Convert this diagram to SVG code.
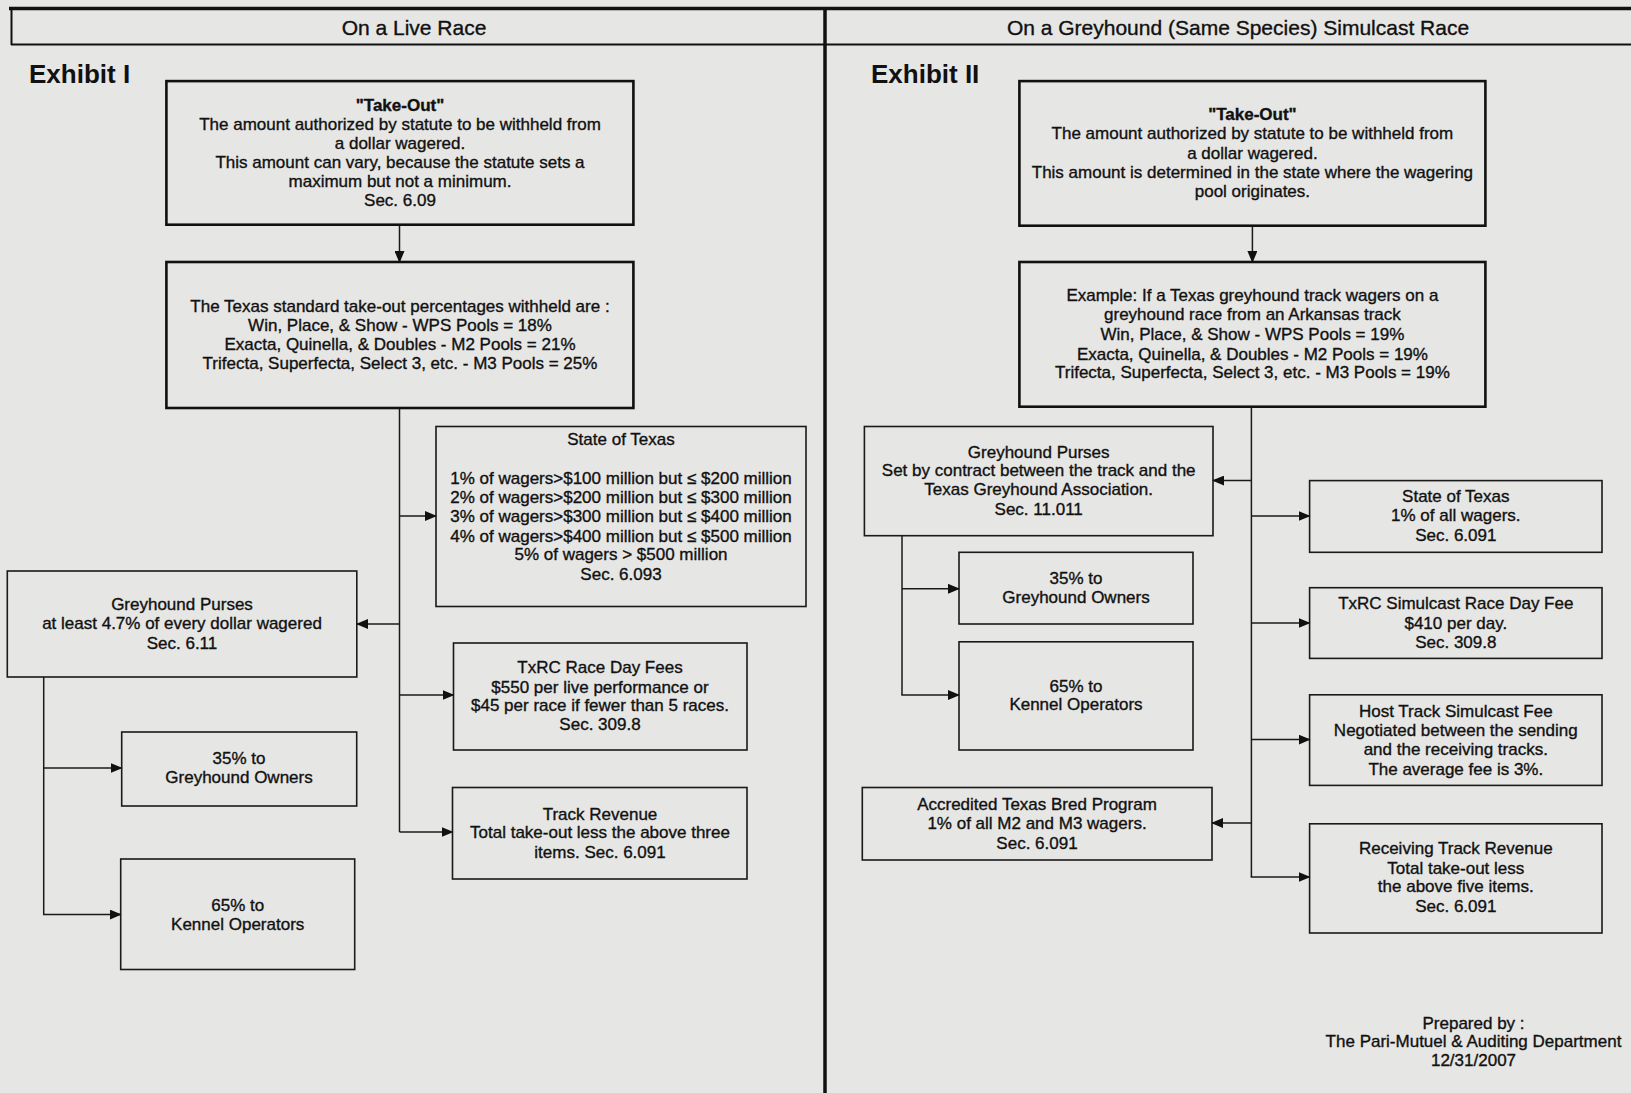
<svg xmlns="http://www.w3.org/2000/svg" width="1631" height="1093" viewBox="0 0 1631 1093">
<style>
.bg{fill:#e6e6e4}
.box{fill:none;stroke:#1a1a1a;stroke-width:1.6}
.tbox{fill:none;stroke:#111;stroke-width:2.6}
.t{font-family:"Liberation Sans",Arial,sans-serif;font-size:17px;fill:#111;stroke:#111;stroke-width:0.35;text-anchor:middle}
.b{font-weight:bold}
.h{font-family:"Liberation Sans",Arial,sans-serif;font-size:21px;fill:#111;stroke:#111;stroke-width:0.35;text-anchor:middle}
.ex{font-family:"Liberation Sans",Arial,sans-serif;font-size:26px;font-weight:bold;fill:#111}
.c{fill:none;stroke:#1a1a1a;stroke-width:1.5}
.frame{fill:none;stroke:#111}
</style>
<defs>
<marker id="ah" markerWidth="12" markerHeight="10" refX="11" refY="5" orient="auto" markerUnits="userSpaceOnUse">
<path d="M0,0 L12,5 L0,10 Z" fill="#111"/>
</marker>
</defs>
<rect class="bg" x="0" y="0" width="1631" height="1093"/>

<g id="frame">
<line class="frame" x1="9" y1="8.5" x2="1631" y2="8.5" stroke-width="3.5"/>
<line class="frame" x1="11.5" y1="8" x2="11.5" y2="45" stroke-width="2"/>
<line class="frame" x1="11" y1="44.5" x2="1631" y2="44.5" stroke-width="2.2"/>
<line class="frame" x1="825" y1="8" x2="825" y2="1093" stroke-width="3.5"/>
<text class="h" x="414" y="35">On a Live Race</text>
<text class="h" x="1238" y="35">On a Greyhound (Same Species) Simulcast Race</text>
<text class="ex" x="29" y="83">Exhibit I</text>
<text class="ex" x="871" y="83">Exhibit II</text>
</g>

<g id="connectors">
<line class="c" x1="399.5" y1="225" x2="399.5" y2="262" marker-end="url(#ah)"/>
<line class="c" x1="399.5" y1="408" x2="399.5" y2="832"/>
<line class="c" x1="399.5" y1="516" x2="436" y2="516" marker-end="url(#ah)"/>
<line class="c" x1="399.5" y1="624" x2="357" y2="624" marker-end="url(#ah)"/>
<line class="c" x1="399.5" y1="695" x2="453.5" y2="695" marker-end="url(#ah)"/>
<line class="c" x1="399.5" y1="832" x2="452.5" y2="832" marker-end="url(#ah)"/>
<line class="c" x1="43.7" y1="677" x2="43.7" y2="914.5"/>
<line class="c" x1="43.7" y1="768" x2="121.7" y2="768" marker-end="url(#ah)"/>
<line class="c" x1="43" y1="914.5" x2="120.7" y2="914.5" marker-end="url(#ah)"/>

<line class="c" x1="1252.4" y1="226" x2="1252.4" y2="262" marker-end="url(#ah)"/>
<line class="c" x1="1251.4" y1="407" x2="1251.4" y2="877"/>
<line class="c" x1="1251.4" y1="480.6" x2="1213" y2="480.6" marker-end="url(#ah)"/>
<line class="c" x1="1251.4" y1="516" x2="1309.6" y2="516" marker-end="url(#ah)"/>
<line class="c" x1="1251.4" y1="623" x2="1309.6" y2="623" marker-end="url(#ah)"/>
<line class="c" x1="1251.4" y1="739.6" x2="1309.6" y2="739.6" marker-end="url(#ah)"/>
<line class="c" x1="1250.7" y1="877" x2="1309.6" y2="877" marker-end="url(#ah)"/>
<line class="c" x1="1251.4" y1="823" x2="1212" y2="823" marker-end="url(#ah)"/>
<line class="c" x1="902" y1="535.7" x2="902" y2="695"/>
<line class="c" x1="902" y1="588.8" x2="959" y2="588.8" marker-end="url(#ah)"/>
<line class="c" x1="901.3" y1="695" x2="959" y2="695" marker-end="url(#ah)"/>
</g>

<g id="takeout-live">
<rect class="tbox" x="166.4" y="81.1" width="467" height="143.6"/>
<text class="t b" x="400" y="111">"Take-Out"</text>
<text class="t" x="400" y="130">The amount authorized by statute to be withheld from</text>
<text class="t" x="400" y="149">a dollar wagered.</text>
<text class="t" x="400" y="168">This amount can vary, because the statute sets a</text>
<text class="t" x="400" y="187">maximum but not a minimum.</text>
<text class="t" x="400" y="206">Sec. 6.09</text>
</g>

<g id="standard-takeout">
<rect class="tbox" x="166.4" y="262" width="467" height="146"/>
<text class="t" x="400" y="312">The Texas standard take-out percentages withheld are :</text>
<text class="t" x="400" y="331">Win, Place, &amp; Show - WPS Pools = 18%</text>
<text class="t" x="400" y="350">Exacta, Quinella, &amp; Doubles - M2 Pools = 21%</text>
<text class="t" x="400" y="369">Trifecta, Superfecta, Select 3, etc. - M3 Pools  = 25%</text>
</g>

<g id="state-live">
<rect class="box" x="436" y="426.5" width="370" height="180"/>
<text class="t" x="621" y="445">State of Texas</text>
<text class="t" x="621" y="483.5">1% of wagers&gt;$100 million but ≤ $200 million</text>
<text class="t" x="621" y="503">2% of wagers&gt;$200 million but ≤ $300 million</text>
<text class="t" x="621" y="522">3% of wagers&gt;$300 million but ≤ $400 million</text>
<text class="t" x="621" y="541.7">4% of wagers&gt;$400 million but ≤ $500 million</text>
<text class="t" x="621" y="560.4">5% of wagers &gt; $500 million</text>
<text class="t" x="621" y="580">Sec. 6.093</text>
</g>

<g id="purses-live">
<rect class="box" x="7.3" y="571" width="349.5" height="106"/>
<text class="t" x="182" y="610">Greyhound Purses</text>
<text class="t" x="182" y="629">at least 4.7% of every dollar wagered</text>
<text class="t" x="182" y="649">Sec. 6.11</text>
</g>

<g id="racedayfees-live">
<rect class="box" x="453.5" y="643" width="293.5" height="107"/>
<text class="t" x="600" y="673">TxRC Race Day Fees</text>
<text class="t" x="600" y="692.5">$550 per live performance or</text>
<text class="t" x="600" y="711">$45 per race if fewer than 5 races.</text>
<text class="t" x="600" y="730">Sec. 309.8</text>
</g>

<g id="trackrevenue-live">
<rect class="box" x="452.5" y="787.5" width="294.5" height="91.5"/>
<text class="t" x="600" y="819.5">Track Revenue</text>
<text class="t" x="600" y="838">Total take-out less the above three</text>
<text class="t" x="600" y="858">items.  Sec. 6.091</text>
</g>

<g id="owners-live">
<rect class="box" x="121.7" y="732" width="235" height="74"/>
<text class="t" x="239" y="764">35% to</text>
<text class="t" x="239" y="783">Greyhound Owners</text>
</g>

<g id="kennel-live">
<rect class="box" x="120.7" y="859" width="234" height="110.5"/>
<text class="t" x="237.7" y="911">65% to</text>
<text class="t" x="237.7" y="930">Kennel Operators</text>
</g>

<g id="takeout-simulcast">
<rect class="tbox" x="1019.4" y="81.1" width="466" height="144.6"/>
<text class="t b" x="1252.4" y="120.4">"Take-Out"</text>
<text class="t" x="1252.4" y="139">The amount authorized by statute to be withheld from</text>
<text class="t" x="1252.4" y="159">a dollar wagered.</text>
<text class="t" x="1252.4" y="177.6">This amount is determined in the state where the wagering</text>
<text class="t" x="1252.4" y="197.4">pool originates.</text>
</g>

<g id="example-simulcast">
<rect class="tbox" x="1019.4" y="262" width="466" height="144.7"/>
<text class="t" x="1252.4" y="301.4">Example: If a Texas greyhound track wagers on a</text>
<text class="t" x="1252.4" y="320">greyhound race from an Arkansas track</text>
<text class="t" x="1252.4" y="340">Win, Place, &amp; Show - WPS Pools = 19%</text>
<text class="t" x="1252.4" y="359.7">Exacta, Quinella, &amp; Doubles - M2 Pools = 19%</text>
<text class="t" x="1252.4" y="378.4">Trifecta, Superfecta, Select 3, etc. - M3 Pools  = 19%</text>
</g>

<g id="purses-simulcast">
<rect class="box" x="864.4" y="426.5" width="348.6" height="109.2"/>
<text class="t" x="1038.7" y="457.5">Greyhound Purses</text>
<text class="t" x="1038.7" y="476">Set by contract between the track and the</text>
<text class="t" x="1038.7" y="495">Texas Greyhound Association.</text>
<text class="t" x="1038.7" y="514.7">Sec. 11.011</text>
</g>

<g id="owners-simulcast">
<rect class="box" x="959" y="552.3" width="234" height="71.7"/>
<text class="t" x="1076" y="584">35% to</text>
<text class="t" x="1076" y="603">Greyhound Owners</text>
</g>

<g id="kennel-simulcast">
<rect class="box" x="959" y="641.8" width="234" height="108.2"/>
<text class="t" x="1076" y="691.5">65% to</text>
<text class="t" x="1076" y="710">Kennel Operators</text>
</g>

<g id="accredited-simulcast">
<rect class="box" x="862.3" y="787.5" width="349.7" height="72.5"/>
<text class="t" x="1037" y="810">Accredited Texas Bred Program</text>
<text class="t" x="1037" y="829">1% of all M2 and M3 wagers.</text>
<text class="t" x="1037" y="848.6">Sec. 6.091</text>
</g>

<g id="state-simulcast">
<rect class="box" x="1309.6" y="480.6" width="292.4" height="71.7"/>
<text class="t" x="1455.8" y="502">State of Texas</text>
<text class="t" x="1455.8" y="521">1% of all wagers.</text>
<text class="t" x="1455.8" y="540.7">Sec. 6.091</text>
</g>

<g id="racedayfee-simulcast">
<rect class="box" x="1309.6" y="587.7" width="292.4" height="70.7"/>
<text class="t" x="1455.8" y="609">TxRC Simulcast Race Day Fee</text>
<text class="t" x="1455.8" y="629">$410 per day.</text>
<text class="t" x="1455.8" y="648">Sec. 309.8</text>
</g>

<g id="hostfee-simulcast">
<rect class="box" x="1309.6" y="694.8" width="292.4" height="90.6"/>
<text class="t" x="1455.8" y="716.5">Host Track Simulcast Fee</text>
<text class="t" x="1455.8" y="736">Negotiated between the sending</text>
<text class="t" x="1455.8" y="755">and the receiving tracks.</text>
<text class="t" x="1455.8" y="774.7">The average fee is 3%.</text>
</g>

<g id="receiving-simulcast">
<rect class="box" x="1309.6" y="823.8" width="292.4" height="109.2"/>
<text class="t" x="1455.8" y="853.8">Receiving Track Revenue</text>
<text class="t" x="1455.8" y="873.5">Total take-out less</text>
<text class="t" x="1455.8" y="892">the above five items.</text>
<text class="t" x="1455.8" y="912">Sec. 6.091</text>
</g>

<g id="prepared">
<text class="t" x="1473.5" y="1028.5">Prepared by :</text>
<text class="t" x="1473.5" y="1047">The Pari-Mutuel &amp; Auditing Department</text>
<text class="t" x="1473.5" y="1066">12/31/2007</text>
</g>
</svg>
